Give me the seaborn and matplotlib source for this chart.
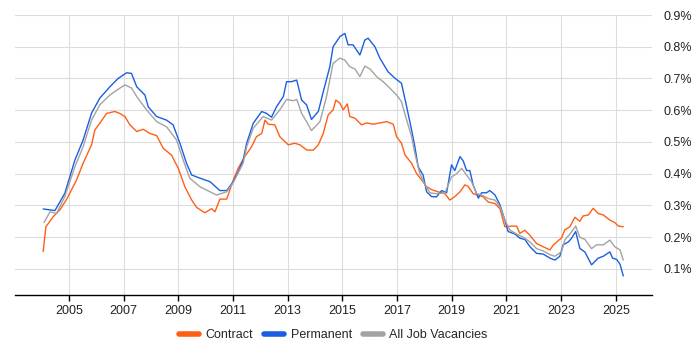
import numpy as np
import pandas as pd
import seaborn as sns
import matplotlib.pyplot as plt
from matplotlib.ticker import FuncFormatter

# Values (year, % of vacancies)
contract_year = [2004.06, 2004.16, 2004.43, 2004.67, 2004.92, 2005.28, 2005.52, 2005.83, 2005.95, 2006.13,
                 2006.38, 2006.68, 2006.86, 2007.05, 2007.23, 2007.48, 2007.72, 2007.96, 2008.21, 2008.45,
                 2008.75, 2009.00, 2009.24, 2009.49, 2009.67, 2009.97, 2010.22, 2010.34, 2010.52, 2010.77,
                 2011.01, 2011.19, 2011.43, 2011.68, 2011.86, 2012.05, 2012.17, 2012.29, 2012.53, 2012.71,
                 2012.84, 2013.02, 2013.26, 2013.45, 2013.69, 2013.93, 2014.12, 2014.30, 2014.48, 2014.66,
                 2014.76, 2014.91, 2015.03, 2015.18, 2015.27, 2015.46, 2015.70, 2015.88, 2016.13, 2016.37,
                 2016.62, 2016.86, 2016.98, 2017.16, 2017.29, 2017.53, 2017.71, 2017.90, 2018.08, 2018.26,
                 2018.50, 2018.75, 2018.93, 2019.11, 2019.30, 2019.48, 2019.60, 2019.78, 2019.97, 2020.15,
                 2020.33, 2020.58, 2020.76, 2020.94, 2021.19, 2021.37, 2021.49, 2021.67, 2021.86, 2022.10,
                 2022.34, 2022.59, 2022.71, 2022.90, 2023.01, 2023.13, 2023.32, 2023.50, 2023.68, 2023.80,
                 2023.99, 2024.17, 2024.35, 2024.54, 2024.78, 2024.96, 2025.09, 2025.27]
contract_pct = [0.155, 0.233, 0.265, 0.286, 0.320, 0.380, 0.433, 0.491, 0.538, 0.559,
                0.590, 0.596, 0.590, 0.580, 0.554, 0.533, 0.540, 0.527, 0.520, 0.480,
                0.459, 0.417, 0.359, 0.317, 0.294, 0.277, 0.290, 0.280, 0.320, 0.320,
                0.380, 0.417, 0.454, 0.485, 0.517, 0.527, 0.569, 0.556, 0.554, 0.517,
                0.506, 0.491, 0.496, 0.491, 0.475, 0.474, 0.491, 0.527, 0.585, 0.601,
                0.632, 0.622, 0.601, 0.620, 0.580, 0.575, 0.554, 0.560, 0.556, 0.560,
                0.564, 0.556, 0.517, 0.496, 0.459, 0.433, 0.401, 0.380, 0.359, 0.350,
                0.343, 0.337, 0.317, 0.328, 0.343, 0.365, 0.360, 0.337, 0.333, 0.327,
                0.311, 0.306, 0.290, 0.233, 0.235, 0.235, 0.212, 0.222, 0.206, 0.180,
                0.170, 0.160, 0.175, 0.190, 0.197, 0.223, 0.233, 0.263, 0.250, 0.267,
                0.270, 0.291, 0.275, 0.270, 0.254, 0.246, 0.235, 0.233]

perm_year = [2004.06, 2004.49, 2004.85, 2005.22, 2005.52, 2005.83, 2006.13, 2006.50, 2006.80, 2007.11,
             2007.29, 2007.48, 2007.78, 2007.90, 2008.21, 2008.57, 2008.81, 2009.06, 2009.30, 2009.49,
             2009.79, 2010.16, 2010.52, 2010.77, 2011.01, 2011.19, 2011.37, 2011.50, 2011.74, 2012.05,
             2012.23, 2012.41, 2012.59, 2012.84, 2012.96, 2013.14, 2013.33, 2013.51, 2013.69, 2013.87,
             2014.12, 2014.30, 2014.54, 2014.66, 2014.91, 2015.09, 2015.21, 2015.39, 2015.64, 2015.82,
             2015.94, 2016.19, 2016.37, 2016.67, 2016.92, 2017.16, 2017.35, 2017.53, 2017.65, 2017.77,
             2017.95, 2018.08, 2018.26, 2018.44, 2018.63, 2018.81, 2018.99, 2019.11, 2019.30, 2019.42,
             2019.54, 2019.66, 2019.78, 2019.97, 2020.09, 2020.27, 2020.39, 2020.58, 2020.76, 2020.94,
             2021.06, 2021.31, 2021.49, 2021.67, 2021.86, 2022.10, 2022.34, 2022.59, 2022.77, 2022.95,
             2023.07, 2023.26, 2023.38, 2023.53, 2023.68, 2023.87, 2024.11, 2024.35, 2024.54, 2024.78,
             2024.88, 2025.03, 2025.15, 2025.27]
perm_pct = [0.289, 0.284, 0.338, 0.443, 0.506, 0.591, 0.638, 0.674, 0.700, 0.718,
            0.716, 0.674, 0.648, 0.611, 0.580, 0.569, 0.554, 0.496, 0.433, 0.396,
            0.386, 0.375, 0.347, 0.347, 0.375, 0.406, 0.443, 0.496, 0.559, 0.596,
            0.590, 0.578, 0.611, 0.643, 0.690, 0.690, 0.695, 0.632, 0.617, 0.571,
            0.596, 0.658, 0.737, 0.800, 0.832, 0.842, 0.806, 0.806, 0.774, 0.821,
            0.827, 0.800, 0.764, 0.721, 0.701, 0.685, 0.611, 0.538, 0.485, 0.422,
            0.396, 0.343, 0.328, 0.327, 0.347, 0.340, 0.428, 0.410, 0.454, 0.440,
            0.410, 0.410, 0.365, 0.323, 0.340, 0.340, 0.347, 0.333, 0.302, 0.254,
            0.218, 0.210, 0.197, 0.193, 0.170, 0.149, 0.147, 0.134, 0.128, 0.140,
            0.176, 0.185, 0.197, 0.218, 0.165, 0.153, 0.113, 0.134, 0.140, 0.154,
            0.134, 0.130, 0.115, 0.078]

all_year = [2004.09, 2004.31, 2004.55, 2004.85, 2005.22, 2005.52, 2005.83, 2006.13, 2006.50, 2006.80,
            2007.05, 2007.29, 2007.48, 2007.84, 2008.21, 2008.57, 2008.94, 2009.18, 2009.42, 2009.79,
            2010.16, 2010.40, 2010.77, 2011.01, 2011.37, 2011.50, 2011.74, 2012.10, 2012.41, 2012.71,
            2012.96, 2013.20, 2013.33, 2013.51, 2013.69, 2013.87, 2014.18, 2014.42, 2014.66, 2014.91,
            2015.09, 2015.27, 2015.46, 2015.64, 2015.82, 2016.01, 2016.25, 2016.49, 2016.74, 2016.98,
            2017.16, 2017.35, 2017.53, 2017.65, 2017.83, 2018.02, 2018.20, 2018.44, 2018.75, 2018.99,
            2019.18, 2019.36, 2019.54, 2019.72, 2019.91, 2020.09, 2020.33, 2020.58, 2020.76, 2020.94,
            2021.12, 2021.37, 2021.61, 2021.86, 2022.10, 2022.34, 2022.59, 2022.77, 2023.01, 2023.13,
            2023.32, 2023.53, 2023.68, 2023.87, 2024.11, 2024.29, 2024.54, 2024.78, 2024.96, 2025.15,
            2025.27]
all_pct = [0.246, 0.280, 0.275, 0.328, 0.422, 0.485, 0.569, 0.617, 0.648, 0.666,
           0.680, 0.670, 0.643, 0.601, 0.564, 0.548, 0.506, 0.443, 0.386, 0.359,
           0.343, 0.333, 0.343, 0.372, 0.433, 0.485, 0.543, 0.580, 0.569, 0.601,
           0.634, 0.630, 0.634, 0.590, 0.564, 0.536, 0.564, 0.643, 0.748, 0.764,
           0.758, 0.737, 0.730, 0.706, 0.739, 0.730, 0.706, 0.690, 0.669, 0.648,
           0.627, 0.569, 0.517, 0.464, 0.401, 0.365, 0.340, 0.337, 0.340, 0.390,
           0.400, 0.417, 0.396, 0.375, 0.337, 0.333, 0.322, 0.317, 0.296, 0.254,
           0.223, 0.210, 0.200, 0.185, 0.164, 0.157, 0.145, 0.140, 0.154, 0.191,
           0.210, 0.235, 0.200, 0.193, 0.164, 0.176, 0.176, 0.191, 0.170, 0.160,
           0.128]

series_names = ['Contract', 'Permanent', 'All Job Vacancies']
series_colors = ['#FF5F15', '#1A5FE0', '#A3A3A3']
year_ticks = [2005, 2007, 2009, 2011, 2013, 2015, 2017, 2019, 2021, 2023, 2025]
pct_ticks = [0.1, 0.2, 0.3, 0.4, 0.5, 0.6, 0.7, 0.8, 0.9]

df = pd.concat([
    pd.DataFrame({'year': contract_year, 'pct': contract_pct, 'series': 'Contract'}),
    pd.DataFrame({'year': perm_year, 'pct': perm_pct, 'series': 'Permanent'}),
    pd.DataFrame({'year': all_year, 'pct': all_pct, 'series': 'All Job Vacancies'}),
])

sns.set_theme(style='white')
plt.rcParams['font.family'] = ['Liberation Sans', 'DejaVu Sans']

fig = plt.figure(figsize=(7, 3.5), dpi=100)
ax = fig.add_axes([15 / 700, 55 / 350, 637 / 700, 280 / 350])

sns.lineplot(data=df, x='year', y='pct', hue='series', hue_order=series_names,
             palette=series_colors, estimator=None, linewidth=1.0, ax=ax, legend=False)

for line in ax.lines:
    line.set_zorder(3)

ax.set_xlim(2003.03, 2026.32)
ax.set_ylim(0.018, 0.9)
ax.set_xticks(year_ticks)
ax.set_yticks(pct_ticks)
ax.yaxis.set_major_formatter(FuncFormatter(lambda v, p: f'{v:.1f}%'))
ax.yaxis.tick_right()
ax.set_xlabel('')
ax.set_ylabel('')
ax.grid(True, color='#dcdcdc', linewidth=0.8)
ax.set_axisbelow(True)

for side in ['top', 'left', 'right']:
    ax.spines[side].set_visible(False)
ax.spines['bottom'].set_color('black')
ax.spines['bottom'].set_linewidth(1.0)
ax.tick_params(axis='x', direction='out', length=4, width=1, color='black',
               labelsize=9, pad=3, bottom=True, labelcolor='#222222')
ax.tick_params(axis='y', length=0, labelsize=9, pad=8, colors='#222222')

# legend centred under the plot area
handles = [plt.Line2D([0], [0], color=c, linewidth=4) for c in series_colors]
ax.legend(handles, series_names, loc='center', bbox_to_anchor=(0.5, -0.143),
          ncol=3, frameon=False, fontsize=9, handlelength=1.6, handletextpad=0.5,
          columnspacing=0.9)

plt.savefig('out.png', dpi=100)
plt.close()
